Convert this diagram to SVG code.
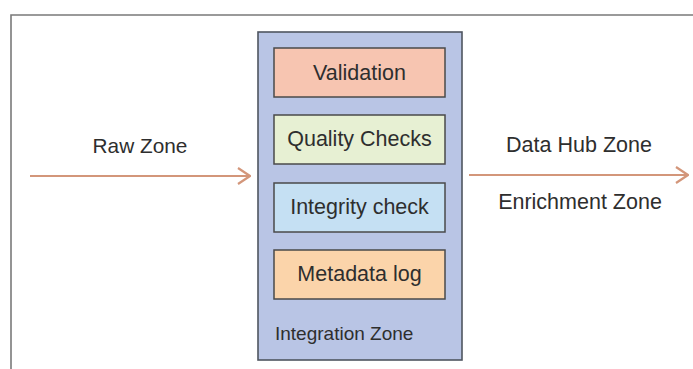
<svg xmlns="http://www.w3.org/2000/svg" width="693" height="369" viewBox="0 0 693 369">
  <style>
    .lbl { font-family: "Liberation Sans", Arial, sans-serif; fill: #2e2e2e; text-anchor: middle; }
    .step { stroke: #4a4a4a; stroke-width: 1.5; }
    .flow { stroke: #d3967a; stroke-width: 1.8; fill: none; }
  </style>
  <defs>
    <marker id="chev" viewBox="0 0 14 18" refX="13" refY="9" markerWidth="14" markerHeight="18" markerUnits="userSpaceOnUse" orient="auto">
      <path d="M1,1 L13,9 L1,17" fill="none" stroke="#d3967a" stroke-width="2.2"/>
    </marker>
  </defs>

  <rect width="693" height="369" fill="#ffffff"/>
  <!-- outer frame, open to the right and bottom -->
  <path d="M11,369 V15 H693" fill="none" stroke="#7a7a7a" stroke-width="1.6"/>

  <g id="integration-zone">
    <rect x="258" y="32" width="204" height="328" fill="#b9c5e5" stroke="#4f5560" stroke-width="1.6"/>
    <text class="lbl" x="275" y="340" font-size="19" style="text-anchor:start">Integration Zone</text>
  </g>

  <g id="validation">
    <rect class="step" x="274" y="48" width="171" height="49" fill="#f7c5b1"/>
    <text class="lbl" x="359.5" y="80" font-size="21.5">Validation</text>
  </g>
  <g id="quality-checks">
    <rect class="step" x="274" y="115" width="171" height="49" fill="#e7f0d3"/>
    <text class="lbl" x="359.5" y="146" font-size="21.5">Quality Checks</text>
  </g>
  <g id="integrity-check">
    <rect class="step" x="274" y="183" width="171" height="49" fill="#c5e0f3"/>
    <text class="lbl" x="359.5" y="214" font-size="21.5">Integrity check</text>
  </g>
  <g id="metadata-log">
    <rect class="step" x="274" y="250" width="171" height="49" fill="#fbd4aa"/>
    <text class="lbl" x="359.5" y="281" font-size="21.5">Metadata log</text>
  </g>

  <g id="connectors">
    <line class="flow" x1="30" y1="176" x2="250" y2="176" marker-end="url(#chev)"/>
    <line class="flow" x1="469" y1="175" x2="688" y2="175" marker-end="url(#chev)"/>
  </g>

  <g id="raw-zone">
    <text class="lbl" x="140" y="153" font-size="20.8">Raw Zone</text>
  </g>
  <g id="data-hub-zone">
    <text class="lbl" x="579" y="152" font-size="21.5">Data Hub Zone</text>
  </g>
  <g id="enrichment-zone">
    <text class="lbl" x="580" y="209" font-size="21.5">Enrichment Zone</text>
  </g>
</svg>
